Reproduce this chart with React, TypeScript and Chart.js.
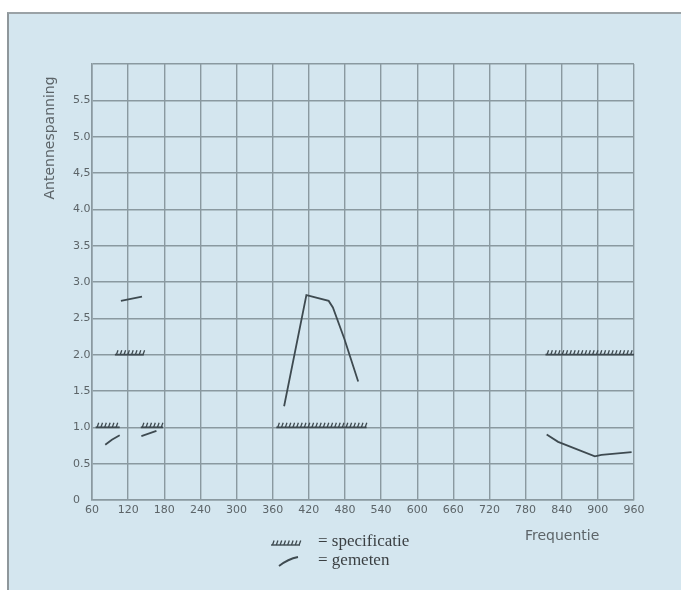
import { useEffect, useRef } from 'react';
import { Chart, registerables } from 'chart.js';

Chart.register(...registerables);

// ---- axis ticks ----
const xMin = 60;
const xMax = 960;
const xStep = 60;
const yMin = 0;
const yMax = 6;
const yStep = 0.5;
const yTickLabels = ['0', '0.5', '1.0', '1.5', '2.0', '2.5', '3.0', '3.5', '4.0', '4,5', '5.0', '5.5', ''];

// ---- specificatie (hatched) segments ----
const specA_x = [66, 106];
const specA_y = [1.0, 1.0];
const specB_x = [141, 178];
const specB_y = [1.0, 1.0];
const specC_x = [98, 146];
const specC_y = [2.0, 2.0];
const specD_x = [366, 516];
const specD_y = [1.0, 1.0];
const specE_x = [813, 960];
const specE_y = [2.0, 2.0];

// ---- gemeten (measured) lines ----
const measA_x = [108, 143];
const measA_y = [2.74, 2.8];
const measB_x = [82, 93, 106];
const measB_y = [0.76, 0.83, 0.89];
const measC_x = [142, 167];
const measC_y = [0.88, 0.95];
const measD_x = [379, 416, 421, 453, 460, 479, 502];
const measD_y = [1.29, 2.82, 2.81, 2.74, 2.65, 2.22, 1.63];
const measE_x = [815, 834, 895, 906, 956];
const measE_y = [0.9, 0.8, 0.6, 0.62, 0.66];

const yTitle = 'Antennespanning';
const xTitle = 'Frequentie';
const legendSpec = '= specificatie';
const legendMeas = '= gemeten';

const INK = '#3e4a50';
const GRID = '#8a99a0';
const LABEL = '#5c6468';
const SANS = '"DejaVu Sans", Verdana, sans-serif';

const toPts = (xs: number[], ys: number[]) => xs.map((x, i) => ({ x, y: ys[i] }));

const drawHatch = (ctx: CanvasRenderingContext2D, x0: number, y0: number, x1: number, y1: number) => {
  const len = x1 - x0;
  for (let s = 1.5; s < len; s += 3.8) {
    const x = x0 + s;
    const y = y0 + ((y1 - y0) * s) / len;
    ctx.beginPath();
    ctx.moveTo(x, y);
    ctx.lineTo(x + 1.6, y - 4.5);
    ctx.stroke();
  }
};

const hatchPlugin = {
  id: 'hatchPlugin',
  afterDatasetsDraw(chart: any) {
    const ctx = chart.ctx as CanvasRenderingContext2D;
    chart.data.datasets.forEach((ds: any, i: number) => {
      if (!ds.hatch) return;
      const pts = chart.getDatasetMeta(i).data;
      ctx.save();
      ctx.strokeStyle = INK;
      ctx.lineWidth = 1.3;
      for (let k = 0; k < pts.length - 1; k++) {
        drawHatch(ctx, pts[k].x, pts[k].y, pts[k + 1].x, pts[k + 1].y);
      }
      ctx.restore();
    });
  },
};

const textPlugin = {
  id: 'textPlugin',
  afterDraw(chart: any) {
    const ctx = chart.ctx as CanvasRenderingContext2D;
    ctx.save();
    ctx.fillStyle = LABEL;
    ctx.font = `14px ${SANS}`;
    ctx.translate(50, 138);
    ctx.rotate(-Math.PI / 2);
    ctx.textAlign = 'center';
    ctx.textBaseline = 'middle';
    ctx.fillText(yTitle, 0, 0);
    ctx.restore();

    ctx.save();
    ctx.fillStyle = LABEL;
    ctx.font = `14px ${SANS}`;
    ctx.textAlign = 'left';
    ctx.textBaseline = 'middle';
    ctx.fillText(xTitle, 525, 536);

    // legend
    ctx.fillStyle = '#3a3f42';
    ctx.font = '17px "Liberation Serif", "DejaVu Serif", serif';
    ctx.fillText(legendSpec, 318, 542);
    ctx.fillText(legendMeas, 318, 561);

    ctx.strokeStyle = INK;
    ctx.lineWidth = 1.4;
    ctx.beginPath();
    ctx.moveTo(271, 545);
    ctx.lineTo(300, 545);
    ctx.stroke();
    ctx.lineWidth = 1.3;
    drawHatch(ctx, 271, 545, 300, 545);

    ctx.lineWidth = 1.8;
    ctx.beginPath();
    ctx.moveTo(279, 566);
    ctx.quadraticCurveTo(288, 559, 298, 557);
    ctx.stroke();
    ctx.restore();
  },
};

export default function App() {
  const ref = useRef<HTMLCanvasElement | null>(null);

  useEffect(() => {
    if (!ref.current) return;
    const spec = (xs: number[], ys: number[]) => ({
      data: toPts(xs, ys),
      showLine: true,
      borderColor: INK,
      borderWidth: 1.8,
      pointRadius: 0,
      hatch: true,
    });
    const meas = (xs: number[], ys: number[]) => ({
      data: toPts(xs, ys),
      showLine: true,
      borderColor: INK,
      borderWidth: 1.8,
      pointRadius: 0,
      tension: 0,
    });
    const chart = new Chart(ref.current, {
      type: 'scatter',
      data: {
        datasets: [
          spec(specA_x, specA_y),
          spec(specB_x, specB_y),
          spec(specC_x, specC_y),
          spec(specD_x, specD_y),
          spec(specE_x, specE_y),
          meas(measA_x, measA_y),
          meas(measB_x, measB_y),
          meas(measC_x, measC_y),
          meas(measD_x, measD_y),
          meas(measE_x, measE_y),
        ] as any,
      },
      options: {
        animation: false,
        responsive: false,
        devicePixelRatio: 1,
        layout: { padding: { top: 64, right: 47, bottom: 0, left: 73 } },
        plugins: { legend: { display: false }, tooltip: { enabled: false } },
        scales: {
          x: {
            type: 'linear',
            min: xMin,
            max: xMax,
            afterFit: (s: any) => {
              s.height = 90;
            },
            afterBuildTicks: (s: any) => {
              const t = [];
              for (let v = xMin; v <= xMax; v += xStep) t.push({ value: v });
              s.ticks = t;
            },
            ticks: {
              autoSkip: false,
              maxRotation: 0,
              padding: 4,
              color: LABEL,
              font: { family: SANS, size: 11 },
            },
            grid: { color: GRID, lineWidth: 1.4, drawTicks: false },
            border: { color: GRID, width: 1.6 },
          },
          y: {
            type: 'linear',
            min: yMin,
            max: yMax,
            afterFit: (s: any) => {
              s.width = 19;
            },
            afterBuildTicks: (s: any) => {
              const t = [];
              for (let i = 0; i * yStep <= yMax + 1e-9; i++) t.push({ value: i * yStep });
              s.ticks = t;
            },
            ticks: {
              autoSkip: false,
              padding: 2,
              crossAlign: 'far',
              color: LABEL,
              font: { family: SANS, size: 11 },
              callback: (_v: any, i: number) => yTickLabels[i],
            },
            grid: { color: GRID, lineWidth: 1.4, drawTicks: false },
            border: { color: GRID, width: 1.6 },
          },
        },
      } as any,
      plugins: [hatchPlugin, textPlugin],
    });
    return () => chart.destroy();
  }, []);

  return (
    <div style={{ position: 'absolute', left: 0, top: 0, width: 681, height: 590, background: '#ffffff', overflow: 'hidden' }}>
      <div
        style={{
          position: 'absolute',
          left: 7,
          top: 12,
          width: 674,
          height: 578,
          background: '#d4e6ef',
          borderLeft: '2px solid #8f979b',
          borderTop: '2px solid #9aa2a6',
          boxSizing: 'border-box',
        }}
      />
      <canvas ref={ref} width={681} height={590} style={{ position: 'absolute', left: 0, top: 0, width: 681, height: 590 }} />
    </div>
  );
}
